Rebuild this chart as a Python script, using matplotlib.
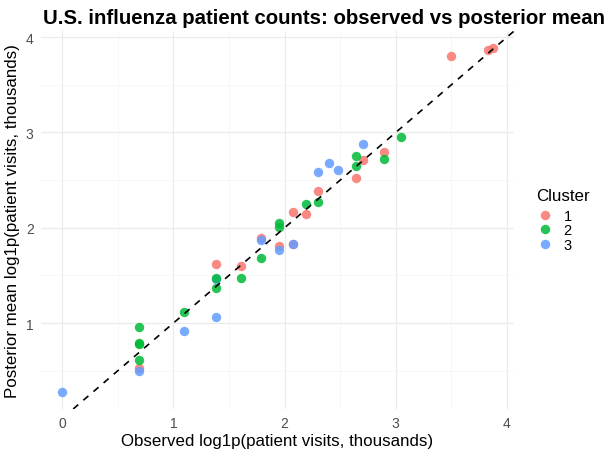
import matplotlib
matplotlib.use('Agg')
import matplotlib.pyplot as plt
from matplotlib.lines import Line2D
import numpy as np

plt.rcParams['font.family'] = ['Liberation Sans', 'DejaVu Sans']

# observed log1p values (x) and posterior means (y), per cluster
c1_x = [0.693, 1.386, 1.609, 1.792, 1.946, 2.079, 2.303, 2.079, 2.197, 2.639, 2.708, 2.890, 3.497, 3.829, 3.871]
c1_y = [0.525, 1.62, 1.595, 1.895, 1.81, 1.83, 2.385, 2.165, 2.147, 2.52, 2.71, 2.79, 3.80, 3.87, 3.885]

c2_x = [0.693, 0.693, 0.693, 0.693, 1.099, 1.386, 1.386, 1.609, 1.792, 1.946, 1.946, 2.197, 2.303, 2.639, 2.639, 2.890, 3.045]
c2_y = [0.96, 0.78, 0.79, 0.615, 1.12, 1.47, 1.37, 1.475, 1.68, 2.05, 2.01, 2.25, 2.27, 2.75, 2.65, 2.72, 2.955]

c3_x = [0.0, 0.693, 1.099, 1.386, 1.386, 1.792, 1.946, 2.079, 2.303, 2.398, 2.485, 2.708]
c3_y = [0.28, 0.50, 0.916, 1.063, 1.46, 1.87, 1.77, 1.83, 2.59, 2.676, 2.605, 2.88]

clusters = ['1', '2', '3']
colors = ['#F8766D', '#00BA38', '#619CFF']

fig = plt.figure(figsize=(6.15, 4.56), dpi=100)
ax = fig.add_axes([0.066, 0.101, 0.770, 0.829])

# green last so it sits on top where points overlap, as in the original
series = [(c1_x, c1_y, colors[0]), (c3_x, c3_y, colors[2]), (c2_x, c2_y, colors[1])]
for xs, ys, col in series:
    ax.scatter(xs, ys, s=46, color=col, alpha=0.85, linewidths=0, zorder=3)

# ggplot-style expanded limits
all_x = np.concatenate([c1_x, c2_x, c3_x])
all_y = np.concatenate([c1_y, c2_y, c3_y])
dx = (all_x.max() - all_x.min()) * 0.05
dy = (all_y.max() - all_y.min()) * 0.05
ax.set_xlim(all_x.min() - dx, all_x.max() + dx)
ax.set_ylim(all_y.min() - dy, all_y.max() + dy)

# identity line
ax.axline((0, 0), slope=1, color='black', lw=1.2, ls=(0, (4, 4)), zorder=4)

ax.set_xticks([0, 1, 2, 3, 4])
ax.set_yticks([1, 2, 3, 4])
ax.set_xticks(np.arange(0.5, 4.5, 1), minor=True)
ax.set_yticks(np.arange(0.5, 4.5, 1), minor=True)
ax.grid(which='major', color='#EBEBEB', lw=0.9)
ax.grid(which='minor', color='#F4F4F4', lw=0.5)
ax.set_axisbelow(True)
for sp in ax.spines.values():
    sp.set_visible(False)
ax.tick_params(which='both', length=0, labelsize=10, labelcolor='#4D4D4D', pad=5)

ax.set_xlabel('Observed log1p(patient visits, thousands)', fontsize=12.2, labelpad=2)
ax.set_ylabel('Posterior mean log1p(patient visits, thousands)', fontsize=12.2, labelpad=4)
ax.set_title('U.S. influenza patient counts: observed vs posterior mean',
             fontsize=14.7, fontweight='bold', loc='left', x=0.005, pad=6)

handles = [Line2D([], [], marker='o', ls='', color=c, alpha=0.85, markersize=6.8, markeredgewidth=0)
           for c in colors]
leg = fig.legend(handles, clusters, title='Cluster', loc='upper left',
                 bbox_to_anchor=(0.862, 0.598), frameon=False, fontsize=10.5,
                 title_fontsize=12.2, handletextpad=0.6, labelspacing=0.05,
                 handlelength=1.3, borderaxespad=0)
leg._legend_box.align = 'left'
leg._legend_box.sep = 4

fig.savefig('out.png', dpi=100)
